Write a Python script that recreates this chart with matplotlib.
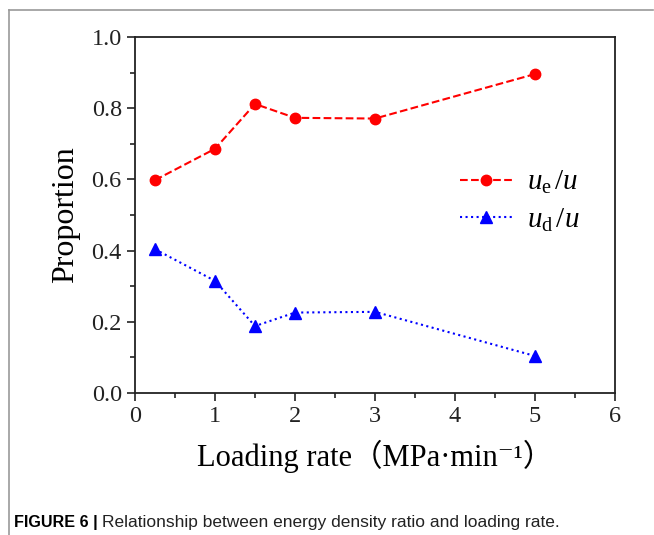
import matplotlib
matplotlib.use("Agg")
import matplotlib.pyplot as plt
from matplotlib.lines import Line2D
from matplotlib.ticker import MultipleLocator

plt.rcParams['font.family'] = ['Liberation Serif', 'DejaVu Serif', 'Noto Sans CJK SC']
plt.rcParams['mathtext.fontset'] = 'custom'
plt.rcParams['mathtext.rm'] = 'Liberation Serif'
plt.rcParams['mathtext.it'] = 'Liberation Serif:italic'

# data
loading_rate = [0.25, 1, 1.5, 2, 3, 5]
ue_ratio = [0.598, 0.686, 0.812, 0.773, 0.771, 0.896]
ud_ratio = [0.404, 0.315, 0.188, 0.226, 0.228, 0.104]
x_ticks = [0, 1, 2, 3, 4, 5, 6]
y_ticks = [0.0, 0.2, 0.4, 0.6, 0.8, 1.0]

fig = plt.figure(figsize=(6.54, 5.35), dpi=100)
ax = fig.add_axes([0.2064, 0.2654, 0.734, 0.6654])

ax.plot(loading_rate, ue_ratio, color='red', linestyle='--', linewidth=1.5,
        marker='o', markersize=7.5, label=r'$u_{\mathrm{e}}\,/u$')
ax.plot(loading_rate, ud_ratio, color='blue', linestyle=':', linewidth=1.5,
        marker='^', markersize=8, label=r'$u_{\mathrm{d}}\,/u$')

ax.set_xlim(0, 6)
ax.set_ylim(0, 1.0)
ax.set_xticks(x_ticks)
ax.set_yticks(y_ticks)
ax.set_yticklabels([f"{v:.1f}" for v in y_ticks])
ax.xaxis.set_minor_locator(MultipleLocator(0.5))
ax.yaxis.set_minor_locator(MultipleLocator(0.1))
ax.tick_params(which='both', direction='out', top=False, right=False,
               labelsize=17.5, width=1.2, colors='#222222')
ax.tick_params(which='major', length=6)
ax.tick_params(which='minor', length=3.5)
for s in ax.spines.values():
    s.set_linewidth(1.3)
    s.set_color('#222222')

ax.set_xlabel('Loading rate（MPa·min⁻¹）', fontsize=22, labelpad=9,
              family=['Liberation Serif', 'Noto Sans CJK SC', 'DejaVu Serif'])
ax.set_ylabel('Proportion', fontsize=23, labelpad=8)

leg = ax.legend(loc='upper right', bbox_to_anchor=(0.98, 0.703), frameon=False,
                fontsize=21, handlelength=1.8, labelspacing=0.35, handletextpad=0.5)

# figure frame lines and caption
fig.add_artist(Line2D([9 / 654, 9 / 654], [0, 1 - 10 / 535], transform=fig.transFigure,
                      color='#999999', linewidth=1.2))
fig.add_artist(Line2D([9 / 654, 653 / 654], [1 - 10 / 535, 1 - 10 / 535],
                      transform=fig.transFigure, color='#999999', linewidth=1.2))

fig.text(14 / 654, 1 - 522 / 535, 'FIGURE 6 |', fontsize=11.6, fontweight='bold',
         family='Liberation Sans', va='center', ha='left')
fig.text(102 / 654, 1 - 522 / 535, 'Relationship between energy density ratio and loading rate.',
         fontsize=12.5, family='Liberation Sans', va='center', ha='left', color='#222222')

fig.savefig('out.png', dpi=100)
